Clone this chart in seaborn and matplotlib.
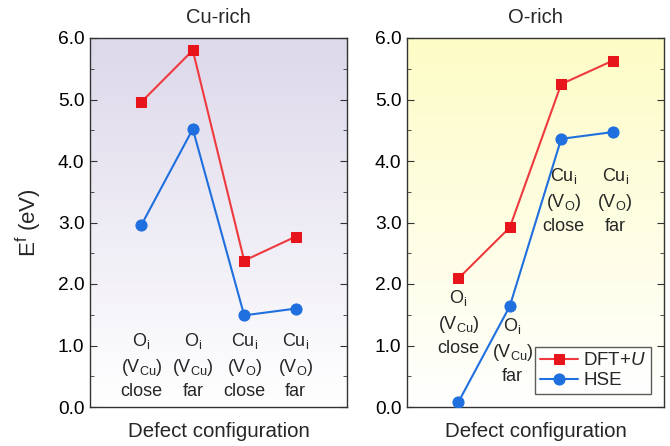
import numpy as np
import pandas as pd
import matplotlib
matplotlib.use("Agg")
import matplotlib.pyplot as plt
import seaborn as sns
from matplotlib.colors import LinearSegmentedColormap
from matplotlib.ticker import MultipleLocator

sns.set_style("ticks")
plt.rcParams['font.family'] = ['Liberation Sans', 'DejaVu Sans']
plt.rcParams['mathtext.fontset'] = 'custom'
plt.rcParams['mathtext.rm'] = 'Liberation Sans'
plt.rcParams['mathtext.it'] = 'Liberation Sans:italic'

positions = [1, 2, 3, 4]
cu_rich_dftu = [4.96, 5.80, 2.38, 2.77]
cu_rich_hse = [2.96, 4.52, 1.49, 1.60]
o_rich_dftu = [2.09, 2.92, 5.25, 5.63]
o_rich_hse = [0.08, 1.64, 4.36, 4.47]
config_labels = [r"O$_\mathregular{i}$" + "\n" + r"(V$_\mathregular{Cu}$)" + "\nclose",
                 r"O$_\mathregular{i}$" + "\n" + r"(V$_\mathregular{Cu}$)" + "\nfar",
                 r"Cu$_\mathregular{i}$" + "\n" + r"(V$_\mathregular{O}$)" + "\nclose",
                 r"Cu$_\mathregular{i}$" + "\n" + r"(V$_\mathregular{O}$)" + "\nfar"]
titles = ["Cu-rich", "O-rich"]

red = '#ee3a3e'
red_m = '#e8141c'
blue = '#1f6fdf'

fig = plt.figure(figsize=(6.7, 4.46), dpi=100)
ax1 = fig.add_axes([90/670, 1-407/446, 257/670, 369/446])
ax2 = fig.add_axes([407/670, 1-407/446, 257/670, 369/446])

def gradient(ax, top):
    cmap = LinearSegmentedColormap.from_list('g', ['#ffffff', top])
    g = np.linspace(0, 1, 256).reshape(-1, 1)
    ax.imshow(g, cmap=cmap, aspect='auto', extent=[0, 5, 0, 6], origin='lower', zorder=0)

gradient(ax1, '#ddd8ea')
gradient(ax2, '#fdfcc6')

for ax, d, h, title in [(ax1, cu_rich_dftu, cu_rich_hse, titles[0]),
                        (ax2, o_rich_dftu, o_rich_hse, titles[1])]:
    df = pd.DataFrame({'x': positions, 'DFT': d, 'HSE': h})
    sns.lineplot(data=df, x='x', y='DFT', ax=ax, color=red, marker='s', markersize=7,
                 markerfacecolor=red_m, markeredgecolor=red_m, linewidth=1.5,
                 label=r"DFT+$\mathit{U}$", zorder=3)
    sns.lineplot(data=df, x='x', y='HSE', ax=ax, color=blue, marker='o', markersize=8,
                 markerfacecolor=blue, markeredgecolor=blue, linewidth=1.5,
                 label="HSE", zorder=3)
    ax.set_xlim(0, 5)
    ax.set_ylim(0, 6)
    ax.set_xticks([])
    ax.yaxis.set_major_locator(MultipleLocator(1.0))
    ax.yaxis.set_minor_locator(MultipleLocator(0.5))
    ax.set_yticklabels([f"{v:.1f}" for v in ax.get_yticks()])
    ax.tick_params(axis='y', which='both', direction='in', left=True, right=True,
                   labelsize=13.8, colors='#333333', labelcolor='black', pad=4)
    ax.tick_params(axis='y', which='major', length=5)
    ax.tick_params(axis='y', which='minor', length=3)
    for s in ax.spines.values():
        s.set_color('#333333')
        s.set_linewidth(1.0)
    ax.set_xlabel("Defect configuration", fontsize=14.8, labelpad=11)
    ax.set_ylabel("")
    ax.set_title(title, fontsize=14.5, pad=11)

ax1.set_ylabel(r"E$^\mathregular{f}$ (eV)", fontsize=16, labelpad=10)
ax1.legend_.remove()
leg = ax2.legend(loc='lower right', fontsize=13.5, frameon=True, fancybox=False,
                 edgecolor='#333333', borderpad=0.25, handlelength=2.0,
                 handletextpad=0.3, labelspacing=0.15, borderaxespad=0.7)
leg.get_frame().set_linewidth(1.0)

lab_kw = dict(ha='center', va='top', fontsize=13, linespacing=1.4, zorder=4)
left_y = [1.24, 1.24, 1.24, 1.24]
for x, lab, y in zip(positions, config_labels, left_y):
    ax1.text(x, y, lab, **lab_kw)
right_pos = [(1, 1.94), (2.05, 1.48), (3.05, 3.92), (4.05, 3.92)]
for (x, y), lab in zip(right_pos, config_labels):
    ax2.text(x, y, lab, **lab_kw)

fig.savefig("out.png", dpi=100)
